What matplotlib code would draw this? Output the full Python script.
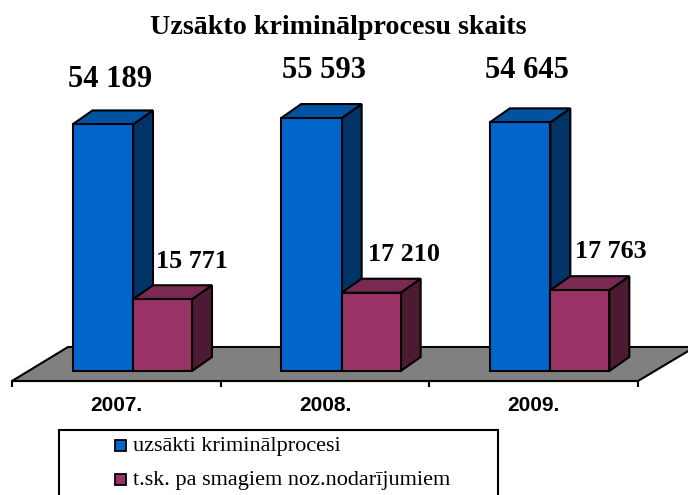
import matplotlib
matplotlib.use('Agg')
import matplotlib.pyplot as plt
from matplotlib.patches import Polygon, Rectangle

title = 'Uzsākto kriminālprocesu skaits'
years = ['2007.', '2008.', '2009.']
opened = [54189, 55593, 54645]
serious = [15771, 17210, 17763]
opened_labels = ['54 189', '55 593', '54 645']
serious_labels = ['15 771', '17 210', '17 763']
legend_labels = ['uzsākti kriminālprocesi', 't.sk. pa smagiem noz.nodarījumiem']

W, H = 688, 495
LEFT, RIGHT, AXIS_Y = 12, 638, 381
PX_Y = 0.00455  # pixels per case
PX_X = (RIGHT - LEFT) / 3.0
LW = 1.5

serif = 'Liberation Serif'
sans = 'Liberation Sans'

fig = plt.figure(figsize=(W / 100, H / 100), dpi=100)
ymin = -10 / PX_Y
ymax = 65000
ax_h = (ymax - ymin) * PX_Y
ax = fig.add_axes([LEFT / W, 1 - AXIS_Y / H, (RIGHT - LEFT) / W, ax_h / H])
ax.set_xlim(0, 3)
ax.set_ylim(ymin, ymax)
ax.patch.set_visible(False)

# depth of the fake 3d, in data units
dx = 20 / PX_X
dy = 14 / PX_Y


def bar3d(x, w, h, front, top, side):
    ax.add_patch(Polygon([(x + w, 0), (x + w + dx, dy), (x + w + dx, h + dy), (x + w, h)],
                         fc=side, ec='black', lw=LW, clip_on=False, zorder=3))
    ax.add_patch(Polygon([(x, h), (x + dx, h + dy), (x + w + dx, h + dy), (x + w, h)],
                         fc=top, ec='black', lw=LW, clip_on=False, zorder=3))
    ax.add_patch(Rectangle((x, 0), w, h, fc=front, ec='black', lw=LW, clip_on=False, zorder=3))


# floor
ax.add_patch(Polygon([(0, ymin), (3, ymin), (3 + 57 / PX_X, 24 / PX_Y), (56 / PX_X, 24 / PX_Y)],
                     fc='#808080', ec='black', lw=LW, clip_on=False, zorder=1))

blue_w = 60.5 / PX_X
red_w = 59 / PX_X
start = 60.5 / PX_X
# pixels from the bar top to the label, and sideways
opened_off = [(-24, 45), (-18, 48), (-24, 52)]
serious_off = [(0, 38), (3, 38), (1, 39)]

for i in range(3):
    x0 = i + start
    x1 = x0 + blue_w
    # purple first so its top sits over the blue side
    bar3d(x0, blue_w, opened[i], '#0066CC', '#0052A3', '#003366')
    bar3d(x1, red_w, serious[i], '#993366', '#7A2952', '#4D1A33')
    ax.text(x0 + blue_w / 2 + dx / 2 + opened_off[i][0] / PX_X + 0.1,
            opened[i] + (opened_off[i][1] - 0.5) / PX_Y, opened_labels[i],
            family=serif, weight='bold', size=22, ha='center', va='center')
    ax.text(x1 + red_w + serious_off[i][0] / PX_X, serious[i] + serious_off[i][1] / PX_Y,
            serious_labels[i], family=serif, weight='bold', size=18.8, ha='center', va='center')

for s in ['top', 'left', 'right']:
    ax.spines[s].set_visible(False)
ax.spines['bottom'].set_linewidth(LW)
ax.spines['bottom'].set_zorder(2)
ax.set_yticks([])
ax.set_xticks([0, 1, 2, 3])
ax.set_xticklabels([])
ax.tick_params(axis='x', length=4, width=LW, color='black')
ax.set_xticks([0.5, 1.5, 2.5], minor=True)
ax.set_xticklabels(years, minor=True, family=sans, weight='bold', size=15)
ax.tick_params(axis='x', which='minor', length=0, pad=11)

fig.text(338.5 / W, 1 - 28 / H, title, family=serif, weight='bold', size=20.2, ha='center', va='center')

# legend box runs off the bottom of the picture
fig.add_artist(Rectangle((59 / W, -5 / H), 439 / W, 70 / H, transform=fig.transFigure,
                         fc='white', ec='black', lw=LW))
colors = ['#0066CC', '#993366']
for lab, col, y in zip(legend_labels, colors, [446, 480]):
    fig.add_artist(Rectangle((114.5 / W, 1 - (y + 5) / H), 11 / W, 11 / H, transform=fig.transFigure,
                             fc=col, ec='black', lw=1.3))
    fig.text(133 / W, 1 - y / H, lab, family=serif, size=16, ha='left', va='center')

fig.savefig('out.png', dpi=100)
